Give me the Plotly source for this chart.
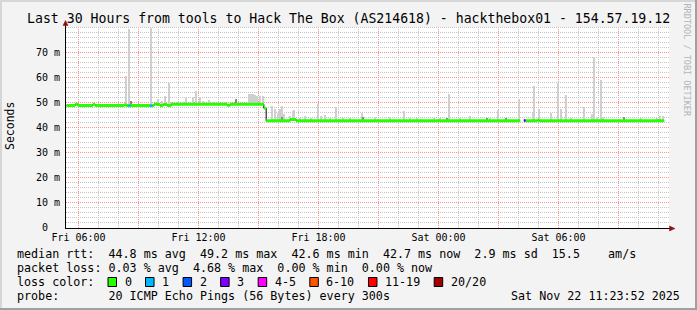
import plotly.graph_objects as go
import pandas as pd

# ---------------- data ----------------
view_start = "2025-11-21 05:22:30"
view_end = "2025-11-22 11:31:30"

# median rtt (ms) as steps: value holds from time i until time i+1
median_times = [
    "2025-11-21 05:24", "2025-11-21 05:50", "2025-11-21 05:58", "2025-11-21 06:43",
    "2025-11-21 06:50", "2025-11-21 08:17", "2025-11-21 08:23", "2025-11-21 08:30",
    "2025-11-21 08:35", "2025-11-21 09:35", "2025-11-21 09:41", "2025-11-21 09:47",
    "2025-11-21 09:53", "2025-11-21 10:05", "2025-11-21 10:14", "2025-11-21 10:26",
    "2025-11-21 10:38", "2025-11-21 13:26", "2025-11-21 13:35", "2025-11-21 15:16",
    "2025-11-21 15:23", "2025-11-21 16:35", "2025-11-21 16:53", "2025-11-22 04:05",
    "2025-11-22 04:16", "2025-11-22 04:21", "2025-11-22 04:56", "2025-11-22 05:02",
]
median_values = [
    48.8, 49.3, 48.8, 49.3,
    48.8, 49.1, 48.8, 48.7,
    48.8, 48.7, 48.8, 49.4,
    49.2, 48.8, 49.2, 48.8,
    49.3, 48.9, 49.3, 47.7,
    42.7, 43.2, 42.7, None,
    42.8, 42.7, 43.0, 42.7,
]
median_loss = [
    0, 0, 0, 0,
    0, 0, 0, 1,
    0, 1, 0, 0,
    0, 0, 0, 0,
    0, 0, 0, 0,
    0, 0, 0, None,
    3, 0, 0, 0,
]
median_end = "2025-11-22 11:17"

# smoke: highest ping of a round (ms)
smoke_times = [
    "2025-11-21 08:22", "2025-11-21 08:33", "2025-11-21 09:37", "2025-11-21 09:58",
    "2025-11-21 10:11", "2025-11-21 10:20", "2025-11-21 10:33", "2025-11-21 10:37",
    "2025-11-21 10:59", "2025-11-21 11:14", "2025-11-21 11:23", "2025-11-21 11:43",
    "2025-11-21 11:52", "2025-11-21 12:05", "2025-11-21 12:15", "2025-11-21 12:32",
    "2025-11-21 12:44", "2025-11-21 13:20", "2025-11-21 14:32", "2025-11-21 14:38",
    "2025-11-21 14:44", "2025-11-21 14:50", "2025-11-21 14:56", "2025-11-21 15:05",
    "2025-11-21 15:14", "2025-11-21 15:41", "2025-11-21 15:50", "2025-11-21 15:59",
    "2025-11-21 16:05", "2025-11-21 16:10", "2025-11-21 16:17", "2025-11-21 16:35",
    "2025-11-21 16:43", "2025-11-21 16:47", "2025-11-21 17:05", "2025-11-21 17:20",
    "2025-11-21 17:38", "2025-11-21 17:58", "2025-11-21 18:08", "2025-11-21 18:20",
    "2025-11-21 18:35", "2025-11-21 18:53", "2025-11-21 19:13", "2025-11-21 19:35",
    "2025-11-21 20:10", "2025-11-21 20:50", "2025-11-21 21:35", "2025-11-21 22:18",
    "2025-11-21 22:35", "2025-11-21 22:55", "2025-11-21 23:47", "2025-11-22 00:05",
    "2025-11-22 00:33", "2025-11-22 01:05", "2025-11-22 01:35", "2025-11-22 02:35",
    "2025-11-22 02:58", "2025-11-22 04:02", "2025-11-22 04:45", "2025-11-22 04:48",
    "2025-11-22 05:02", "2025-11-22 05:37", "2025-11-22 06:00", "2025-11-22 06:07",
    "2025-11-22 06:22", "2025-11-22 06:38", "2025-11-22 07:18", "2025-11-22 07:41",
    "2025-11-22 07:48", "2025-11-22 07:56", "2025-11-22 08:07", "2025-11-22 08:14",
    "2025-11-22 10:08", "2025-11-22 10:55", "2025-11-22 11:05", "2025-11-22 11:13",
]
smoke_tops = [
    60.6, 79.6, 79.8, 51.4,
    50.6, 52.6, 57.9, 50.3,
    50.4, 50.4, 51.7, 52.1,
    54.6, 52.4, 50.8, 51.0,
    50.2, 50.2, 53.4, 53.4,
    53.4, 53.1, 52.5, 52.6,
    52.5, 48.6, 47.4, 46.0,
    47.3, 48.6, 45.4, 44.5,
    46.7, 47.0, 44.0, 44.7,
    44.0, 49.3, 44.5, 45.0,
    44.0, 48.4, 44.0, 43.8,
    45.7, 44.3, 44.3, 46.7,
    43.8, 43.9, 44.0, 43.8,
    53.4, 44.0, 44.7, 43.8,
    47.0, 51.3, 46.0, 56.6,
    47.5, 46.0, 57.9, 47.4,
    53.0, 44.0, 48.4, 45.4,
    68.3, 44.4, 59.0, 44.4,
    43.8, 44.0, 44.5, 44.7,
]

# darker smoke (many pings close together)
dark_smoke_times = [
    "2025-11-21 08:37", "2025-11-21 13:53", "2025-11-21 16:11", "2025-11-21 20:13",
    "2025-11-22 00:26", "2025-11-22 02:25", "2025-11-22 03:22", "2025-11-22 09:18",
]
dark_smoke_tops = [50.6, 51.3, 44.2, 44.4, 44.0, 44.0, 44.0, 44.3]

x_tick_times = [
    "2025-11-21 06:00", "2025-11-21 09:00", "2025-11-21 12:00", "2025-11-21 15:00",
    "2025-11-21 18:00", "2025-11-21 21:00", "2025-11-22 00:00", "2025-11-22 03:00",
    "2025-11-22 06:00", "2025-11-22 09:00",
]
x_tick_labels = ["Fri 06:00", "", "Fri 12:00", "", "Fri 18:00", "",
                 "Sat 00:00", "", "Sat 06:00", ""]
y_tick_values = [0, 10, 20, 30, 40, 50, 60, 70]
y_tick_labels = ["0\u00a0\u00a0", "10 m", "20 m", "30 m", "40 m", "50 m", "60 m", "70 m"]

loss_labels = ["0", "1", "2", "3", "4-5", "6-10", "11-19", "20/20"]
loss_colors = ["#26ff00", "#00b8ff", "#0059ff", "#7e00ff",
               "#ff00ff", "#ff5500", "#ff0000", "#a00000"]

title_text = "Last 30 Hours from tools to Hack The Box (AS214618) - hackthebox01 - 154.57.19.12"
stats_rows = [
    "median rtt:  44.8 ms avg  49.2 ms max  42.6 ms min  42.7 ms now  2.9 ms sd  15.5    am/s",
    "packet loss: 0.03 % avg  4.68 % max  0.00 % min  0.00 % now",
]
loss_row_label = "loss color:"
probe_text = "probe:       20 ICMP Echo Pings (56 Bytes) every 300s"
date_text = "Sat Nov 22 11:23:52 2025"
y_title = "Seconds"
watermark = "RRDTOOL / TOBI OETIKER"

# ---------------- geometry ----------------
W, H = 697, 310
L, R, T, B = 66, 28, 27, 82
PW = W - L - R
PH = H - T - B
MONO = "DejaVu Sans Mono"
Y_RANGE = [-0.2, 80.2]
MAJOR = "#ff9090"
MINOR = "#c4c4c4"


def px(x):
    return (x - L) / PW


def py(y):
    return (H - B - y) / PH


def nb(s):
    return s.replace(" ", "\u00a0")


mt = pd.to_datetime(median_times)


def median_at(t):
    i = mt.searchsorted(pd.Timestamp(t), side="right") - 1
    return median_values[i]


fig = go.Figure()

# smoke
sb = [median_at(t) for t in smoke_times]
fig.add_trace(go.Bar(x=smoke_times, y=[top - b for top, b in zip(smoke_tops, sb)], base=sb,
                     width=300000, marker=dict(color="#cfcfcf", line=dict(width=0)),
                     hoverinfo="skip"))
db = [median_at(t) for t in dark_smoke_times]
fig.add_trace(go.Bar(x=dark_smoke_times, y=[top - b for top, b in zip(dark_smoke_tops, db)], base=db,
                     width=300000, marker=dict(color="#8a8a8a", line=dict(width=0)),
                     hoverinfo="skip"))

# median black line and coloured segments
bx, by = [], []
segs = {}
for i, t0 in enumerate(median_times):
    v = median_values[i]
    t1 = median_times[i + 1] if i + 1 < len(median_times) else median_end
    if v is None:
        bx.append(None)
        by.append(None)
        continue
    bx += [t0, t1]
    by += [v, v]
    c = median_loss[i]
    sx, sy = segs.setdefault(c, ([], []))
    sx += [t0, t1, None]
    sy += [v, v, None]

fig.add_trace(go.Scatter(x=bx, y=by, mode="lines", line=dict(color="#000000", width=1),
                         connectgaps=False, hoverinfo="skip"))
for c, (sx, sy) in segs.items():
    fig.add_trace(go.Scatter(x=sx, y=sy, mode="lines",
                             line=dict(color=loss_colors[c], width=3),
                             connectgaps=False, hoverinfo="skip"))

shapes = []
# grid (rrdtool style dotted lines)
minor_hours = [t for t in pd.date_range("2025-11-21 06:00", "2025-11-22 11:00", freq="1h")
               if t.hour % 3 != 0]
for t in minor_hours:
    shapes.append(dict(type="line", xref="x", yref="paper", x0=t, x1=t, y0=0, y1=1,
                       line=dict(color=MINOR, width=1, dash="1px,1px"), layer="below"))
for t in x_tick_times:
    shapes.append(dict(type="line", xref="x", yref="paper", x0=t, x1=t, y0=0, y1=1,
                       line=dict(color=MAJOR, width=1, dash="1px,1px"), layer="below"))
for v in range(2, 81, 2):
    if v % 10 == 0 and v < 80:
        continue
    shapes.append(dict(type="line", xref="paper", yref="y", x0=0, x1=1, y0=v, y1=v,
                       line=dict(color=MINOR, width=1, dash="1px,1px"), layer="below"))
for v in y_tick_values[1:]:
    shapes.append(dict(type="line", xref="paper", yref="y", x0=0, x1=1, y0=v, y1=v,
                       line=dict(color=MAJOR, width=1, dash="1px,1px"), layer="below"))

fig.update_layout(
    width=W, height=H, margin=dict(l=L, r=R, t=T, b=B, pad=0),
    paper_bgcolor="#f3f3f3", plot_bgcolor="#ffffff", showlegend=False,
    barmode="overlay", bargap=0,
    font=dict(family=MONO, size=10, color="#000000"),
    xaxis=dict(type="date", range=[view_start, view_end], tickmode="array",
               tickvals=x_tick_times, ticktext=x_tick_labels,
               showgrid=False, showline=True, linecolor="#000000", linewidth=1,
               ticks="", tickfont=dict(family=MONO, size=10, color="#000000"),
               zeroline=False, fixedrange=True),
    yaxis=dict(range=Y_RANGE, tickmode="array", tickvals=y_tick_values, ticktext=y_tick_labels,
               showgrid=False, showline=True, linecolor="#000000", linewidth=1,
               ticks="outside", ticklen=3, tickcolor="#f3f3f3",
               tickfont=dict(family=MONO, size=10, color="#000000"),
               zeroline=False, fixedrange=True),
)

# 3D frame
shapes.append(dict(type="rect", xref="paper", yref="paper", x0=px(0), x1=px(2), y0=py(0), y1=py(H),
                   fillcolor="#d6d6d6", line=dict(width=0), layer="above"))
shapes.append(dict(type="rect", xref="paper", yref="paper", x0=px(0), x1=px(W), y0=py(0), y1=py(2),
                   fillcolor="#d6d6d6", line=dict(width=0), layer="above"))
shapes.append(dict(type="rect", xref="paper", yref="paper", x0=px(W - 2), x1=px(W), y0=py(0), y1=py(H),
                   fillcolor="#a0a0a0", line=dict(width=0), layer="above"))
shapes.append(dict(type="rect", xref="paper", yref="paper", x0=px(0), x1=px(W), y0=py(H - 2), y1=py(H),
                   fillcolor="#a0a0a0", line=dict(width=0), layer="above"))
# axis extensions + arrowheads
shapes.append(dict(type="line", xref="paper", yref="paper", x0=px(65.5), x1=px(65.5), y0=py(27), y1=py(23),
                   line=dict(color="#000000", width=1), layer="above"))
shapes.append(dict(type="line", xref="paper", yref="paper", x0=px(669), x1=px(672), y0=py(228.5), y1=py(228.5),
                   line=dict(color="#000000", width=1), layer="above"))
shapes.append(dict(type="path", xref="paper", yref="paper",
                   path=f"M {px(65.5)},{py(20.5)} L {px(63)},{py(25.5)} L {px(68)},{py(25.5)} Z",
                   fillcolor="#8b1010", line=dict(color="#8b1010", width=0.5), layer="above"))
shapes.append(dict(type="path", xref="paper", yref="paper",
                   path=f"M {px(675)},{py(228.5)} L {px(669.5)},{py(226)} L {px(669.5)},{py(231)} Z",
                   fillcolor="#8b1010", line=dict(color="#8b1010", width=0.5), layer="above"))

anns = []
anns.append(dict(text=nb(title_text), x=px(348), y=py(19), xref="paper", yref="paper",
                 xanchor="center", yanchor="middle", showarrow=False, borderpad=0,
                 font=dict(family=MONO, size=13.2, color="#000000")))
anns.append(dict(text=y_title, x=px(10), y=py(126), xref="paper", yref="paper", textangle=-90,
                 xanchor="center", yanchor="middle", showarrow=False, borderpad=0,
                 font=dict(family=MONO, size=11.5, color="#000000")))
anns.append(dict(text=nb(watermark), x=px(686.5), y=py(60), xref="paper", yref="paper", textangle=90,
                 xanchor="center", yanchor="middle", showarrow=False, borderpad=0,
                 font=dict(family=MONO, size=8.5, color="#b4b4b4")))

LF = 11.7
CW = LF * 0.602
row_y = [254, 268, 282, 296]
for i, s in enumerate(stats_rows):
    anns.append(dict(text=nb(s), x=px(16), y=py(row_y[i]), xref="paper", yref="paper",
                     xanchor="left", yanchor="middle", showarrow=False, borderpad=0,
                     font=dict(family=MONO, size=LF, color="#000000")))
anns.append(dict(text=nb(loss_row_label), x=px(16), y=py(row_y[2]), xref="paper", yref="paper",
                 xanchor="left", yanchor="middle", showarrow=False, borderpad=0,
                 font=dict(family=MONO, size=LF, color="#000000")))
bx0 = 108.0
for lab, col in zip(loss_labels, loss_colors):
    shapes.append(dict(type="rect", xref="paper", yref="paper", x0=px(bx0), x1=px(bx0 + 8.5),
                       y0=py(row_y[2] + 4.5), y1=py(row_y[2] - 4.5),
                       fillcolor=col, line=dict(color="#000000", width=1), layer="above"))
    lx = bx0 + 15.5
    anns.append(dict(text=nb(lab), x=px(lx), y=py(row_y[2]), xref="paper", yref="paper",
                     xanchor="left", yanchor="middle", showarrow=False, borderpad=0,
                     font=dict(family=MONO, size=LF, color="#000000")))
    bx0 = lx + len(lab) * CW + 15
anns.append(dict(text=nb(probe_text), x=px(16), y=py(row_y[3]), xref="paper", yref="paper",
                 xanchor="left", yanchor="middle", showarrow=False, borderpad=0,
                 font=dict(family=MONO, size=LF, color="#000000")))
anns.append(dict(text=nb(date_text), x=px(681), y=py(row_y[3]), xref="paper", yref="paper",
                 xanchor="right", yanchor="middle", showarrow=False, borderpad=0,
                 font=dict(family=MONO, size=LF, color="#000000")))

fig.update_layout(shapes=shapes, annotations=anns)
fig.write_html("out.html")
